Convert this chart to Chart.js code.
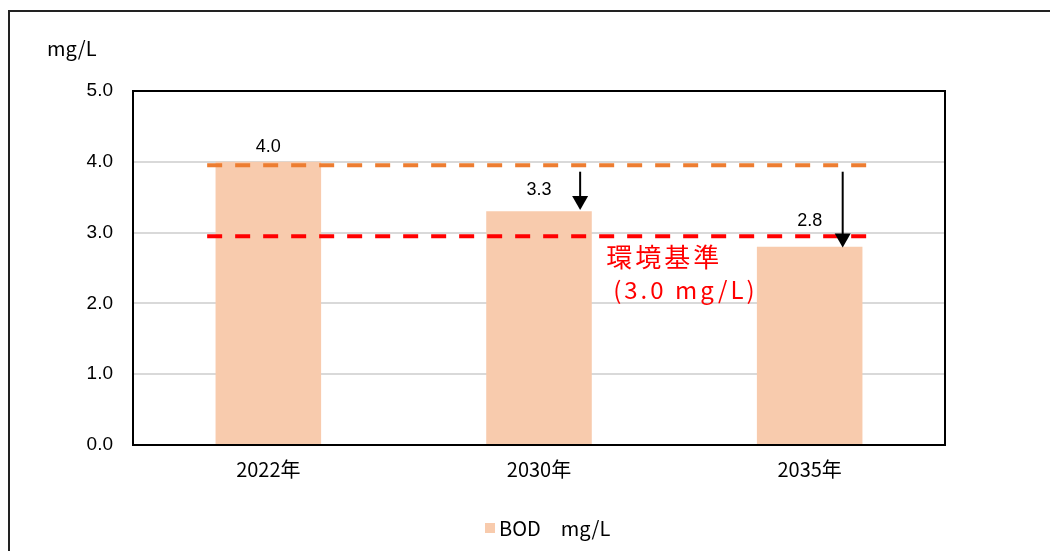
<!DOCTYPE html>
<html>
<head>
<meta charset="utf-8">
<script src="https://cdn.jsdelivr.net/npm/chart.js@4"></script>
<style>
  html, body { margin: 0; padding: 0; background: #fff; }
  #wrap { width: 1050px; height: 551px; }
</style>
</head>
<body>
<div id="wrap"><canvas id="myChart" width="1050" height="551"></canvas></div>
<script>
// データ
const years = ["2022年", "2030年", "2035年"]
const bod = [4.0, 3.3, 2.8]
const yTicks = [0, 1, 2, 3, 4, 5]
// 破線: 現状 (オレンジ) と 環境基準 (赤)
const refValues = [3.95, 2.95]
const refColors = ["#ED7D31", "#FF0000"]
// 矢印 [x位置(カテゴリ番号), 始点, 終点]
const arrowX = [1.152, 2.122]
const arrowFrom = [3.86, 3.86]
const arrowTo = [3.32, 2.79]

const JP = "'Noto Sans CJK JP', sans-serif"
const NUM = "'Liberation Sans', Arial, sans-serif"
// ラベルと棒の間隔 (px)
const labelGap = [6, 12, 17]

const extras = {
  id: "extras",
  beforeDraw(chart) {
    const ctx = chart.ctx
    ctx.save()
    ctx.fillStyle = "#fff"
    ctx.fillRect(0, 0, chart.width, chart.height)
    // 外枠
    ctx.strokeStyle = "#222"
    ctx.lineWidth = 2
    ctx.beginPath()
    ctx.moveTo(9, 551)
    ctx.lineTo(9, 11)
    ctx.lineTo(1050, 11)
    ctx.stroke()
    ctx.restore()
  },
  afterDatasetsDraw(chart) {
    const ctx = chart.ctx
    const x = chart.scales.x
    const y = chart.scales.y
    const a = chart.chartArea
    ctx.save()

    // 枠線
    ctx.strokeStyle = "#000"
    ctx.lineWidth = 2
    ctx.strokeRect(a.left, a.top, a.right - a.left, a.bottom - a.top)

    // 破線
    ctx.lineWidth = 4
    ctx.setLineDash([15, 13])
    refValues.forEach((v, i) => {
      ctx.strokeStyle = refColors[i]
      ctx.beginPath()
      ctx.moveTo(x.getPixelForValue(-0.226), y.getPixelForValue(v))
      ctx.lineTo(x.getPixelForValue(2.219), y.getPixelForValue(v))
      ctx.stroke()
    })
    ctx.setLineDash([])

    // 矢印
    ctx.strokeStyle = "#000"
    ctx.fillStyle = "#000"
    ctx.lineWidth = 2
    arrowX.forEach((ax, i) => {
      const px = x.getPixelForValue(ax)
      const y1 = y.getPixelForValue(arrowFrom[i])
      const y2 = y.getPixelForValue(arrowTo[i])
      ctx.beginPath()
      ctx.moveTo(px, y1)
      ctx.lineTo(px, y2 - 12)
      ctx.stroke()
      ctx.beginPath()
      ctx.moveTo(px - 8, y2 - 14)
      ctx.lineTo(px + 8, y2 - 14)
      ctx.lineTo(px, y2)
      ctx.closePath()
      ctx.fill()
    })

    // データラベル
    ctx.fillStyle = "#000"
    ctx.font = "18px " + NUM
    ctx.textAlign = "center"
    ctx.textBaseline = "bottom"
    const meta = chart.getDatasetMeta(0)
    meta.data.forEach((bar, i) => {
      ctx.fillText(bod[i].toFixed(1), bar.x, bar.y - labelGap[i])
    })

    // 環境基準
    ctx.fillStyle = "#FF0000"
    ctx.textAlign = "left"
    ctx.textBaseline = "middle"
    ctx.font = "26px " + JP
    ctx.letterSpacing = "3px"
    ctx.fillText("環境基準", x.getPixelForValue(1.248), y.getPixelForValue(2.65))
    ctx.font = "24px " + JP
    ctx.letterSpacing = "3px"
    ctx.fillText("(3.0 mg/L)", x.getPixelForValue(1.274), y.getPixelForValue(2.19))
    ctx.letterSpacing = "0px"

    // 単位
    ctx.fillStyle = "#000"
    ctx.font = "20px " + JP
    ctx.textAlign = "left"
    ctx.fillText("mg/L", 47, 48)

    // 凡例
    ctx.fillStyle = "#F8CBAD"
    ctx.fillRect(485, 523, 10, 10)
    ctx.fillStyle = "#000"
    ctx.font = "20px " + JP
    ctx.fillText("BOD\u3000mg/L", 499, 528)
    ctx.restore()
  }
}

new Chart(document.getElementById("myChart"), {
  type: "bar",
  data: {
    labels: years,
    datasets: [
      {
        label: "BOD mg/L",
        data: bod,
        backgroundColor: "#F8CBAD",
        borderWidth: 0,
        categoryPercentage: 1,
        barPercentage: 0.39,
      },
    ],
  },
  options: {
    responsive: false,
    animation: false,
    layout: { padding: { top: 91, right: 105, bottom: 0, left: 0 } },
    plugins: {
      legend: { display: false },
      tooltip: { enabled: false },
    },
    scales: {
      x: {
        grid: { display: false, drawTicks: false },
        border: { display: false },
        ticks: { color: "#000", font: { family: JP, size: 20 }, padding: 12 },
        afterFit(s) { s.height = 106 },
      },
      y: {
        min: 0,
        max: 5,
        afterBuildTicks(s) { s.ticks = yTicks.map((v) => ({ value: v })) },
        grid: { color: "#D9D9D9", lineWidth: 2, drawTicks: false },
        border: { display: false },
        ticks: {
          color: "#000",
          font: { family: NUM, size: 19 },
          padding: 20,
          callback: (v) => Number(v).toFixed(1),
        },
        afterFit(s) { s.width = 133 },
      },
    },
  },
  plugins: [extras],
})
</script>
</body>
</html>
